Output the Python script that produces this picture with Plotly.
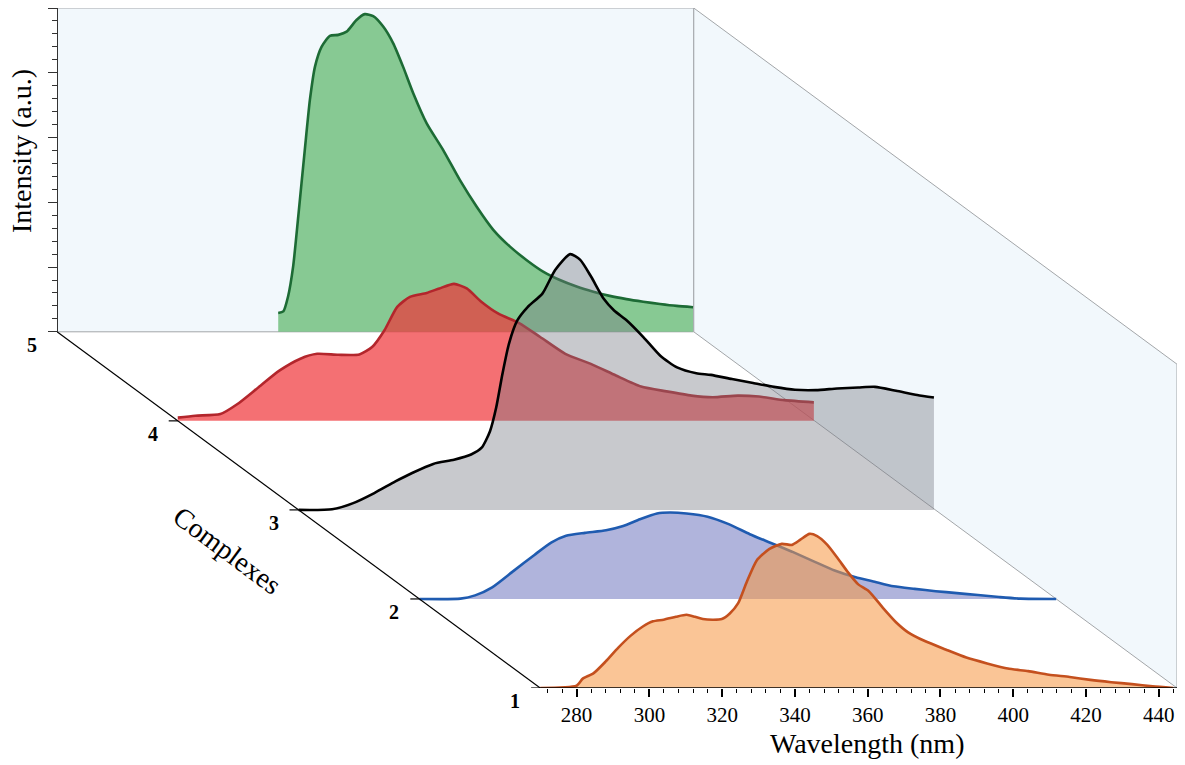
import plotly.graph_objects as go

# ---------------- data ----------------
complexes = [1, 2, 3, 4, 5]

wl_c1 = [270, 280, 281.7, 284.6, 288, 291.4, 294.8, 298.2, 301, 303.9, 307.3, 310.2, 312.5, 314.7,
         317.6, 319.9, 322.1, 324.4, 326.7, 329.5, 332.9, 336.4, 339.2, 341.5, 344.0, 346.1, 348.9,
         351.8, 354.6, 357.4, 360.3, 364.3, 367.7, 371.1, 375.7, 381.4, 387.1, 392.8, 398.5, 404.1,
         409.8, 415.5, 421.2, 426.9, 432.6, 438.3, 444]
int_c1 = [0, 0.7, 2.9, 4.5, 8.2, 12.4, 16.1, 19.0, 20.6, 21.1, 22.0, 22.6, 22.0, 21.3,
          21.1, 21.3, 23.0, 26.2, 32.6, 39.4, 42.9, 44.5, 44.2, 45.8, 47.6, 46.9, 44.2,
          40.0, 35.7, 32.0, 29.9, 24.6, 20.4, 17.2, 14.5, 11.9, 9.4, 7.6, 6.0, 5.2,
          4.1, 3.4, 2.5, 1.8, 1.2, 0.5, 0]

wl_c2 = [270, 281.3, 285.3, 290, 295.8, 301.6, 306.2, 310.3, 315.5, 321.3, 326, 330.6, 335.3,
         338.8, 343.4, 349.2, 355.0, 360.8, 366.6, 372.4, 378.2, 384.1, 389.9, 394.5, 400.3,
         406.1, 411.9, 417.7, 423.5, 429.3, 435.2, 445]
int_c2 = [0, 0.1, 1.1, 3.6, 8.6, 13.6, 17.4, 19.5, 20.4, 21.2, 22.5, 24.6, 26.4,
          26.7, 26.4, 25.4, 23.1, 20.0, 17.3, 14.6, 11.7, 8.8, 6.7, 5.5, 3.9,
          3.1, 2.4, 1.8, 1.2, 0.6, 0.1, 0]

wl_c3 = [270, 279.2, 285.0, 290.8, 296.6, 301.2, 307.0, 312.7, 317.4, 320.3, 322.6, 324.3, 326.0,
         327.8, 330.1, 333.0, 337.0, 340.5, 344.6, 347.4, 350.4, 353.8, 356.7, 360.2, 364.8,
         369.4, 374.0, 379.3, 383.3, 389.1, 394.9, 400.6, 406.4, 412.2, 418.0, 423.8, 428.4,
         434.2, 440.0, 444.6]
int_c3 = [0, 0.2, 2.1, 5.2, 8.8, 11.4, 14.2, 15.5, 17.1, 19.2, 24.3, 31.6, 41.9,
          51.3, 58.5, 62.7, 66.8, 74.1, 79.0, 77.2, 72.0, 65.3, 61.6, 58.5, 53.3,
          47.6, 44.0, 42.2, 41.7, 40.4, 39.2, 38.0, 37.1, 37.0, 37.5, 37.8, 38.0,
          36.8, 35.5, 34.7]

wl_c4 = [270, 274.8, 281.7, 286.4, 292.2, 297.9, 303.7, 308.3, 314.1, 319.9, 323.4, 326.8, 330.3,
         333.8, 338.4, 341.9, 345.9, 349.4, 353.4, 358.1, 363.8, 369.6, 376.5, 383.5, 390.4,
         397.3, 404.3, 411.2, 417.0, 423.9, 429.7, 436.7, 444.8]
int_c4 = [1.0, 1.6, 2.1, 5.2, 10.4, 15.5, 19.2, 20.7, 20.4, 20.5, 22.8, 28.0, 35.2,
          38.3, 39.5, 40.9, 42.3, 40.9, 36.8, 33.1, 30.2, 25.9, 20.7, 17.6, 14.0,
          10.6, 9.1, 7.8, 7.3, 7.8, 7.5, 6.4, 5.7]

wl_c5 = [330.8, 332.2, 333.5, 334.9, 336.3, 338.1, 339.5, 340.9, 342.7, 345.0, 347.3, 349.6, 352.3,
         354.6, 356.9, 359.7, 362.4, 365.1, 367.9, 371.6, 376.1, 380.7, 385.3, 389.9, 394.5,
         399.0, 403.6, 408.2, 412.8, 417.4, 421.9, 426.5, 431.1, 435.7, 440.3, 444.8]
int_c5 = [5.8, 6.3, 10.9, 20.2, 35.6, 56.2, 71.6, 81.9, 88.0, 91.4, 91.7, 92.7, 96.3,
          98.1, 97.5, 94.2, 89.1, 81.9, 73.7, 64.4, 56.2, 46.9, 38.7, 31.5, 26.3,
          22.2, 18.6, 16.0, 14.0, 12.4, 11.1, 10.1, 9.3, 8.6, 8.0, 7.6]

wl_ticks = [280, 300, 320, 340, 360, 380, 400, 420, 440]

# ---------------- styling / projection ----------------
WL_MIN, WL_MAX = 270, 445
I_MAX = 100
DX = 33.2   # wavelength shift per complex step (oblique depth)
DY = 27.5   # intensity shift per complex step
NK = len(complexes) - 1

SERIF = "Liberation Serif, Times New Roman, serif"
WALL = "#f2f8fc"
EDGE = "#a3a6a9"

series = [
    (wl_c1, int_c1, "#c4501e", "rgba(246,152,68,0.56)"),
    (wl_c2, int_c2, "#1f5bb0", "rgba(142,148,205,0.70)"),
    (wl_c3, int_c3, "#000000", "rgba(117,120,130,0.40)"),
    (wl_c4, int_c4, "#b3262c", "rgba(239,51,56,0.70)"),
    (wl_c5, int_c5, "#1d6b35", "rgba(107,189,120,0.80)"),
]


def px(wl, k):
    return [w - k * DX for w in wl]


def py(vals, k):
    return [v + k * DY for v in vals]


fig = go.Figure()

# curves, back to front
for k in range(NK, -1, -1):
    wl, it, lc, fc = series[k]
    poly_x = px(wl + [wl[-1], wl[0]], k)
    poly_y = py(it + [0, 0], k)
    fig.add_trace(go.Scatter(x=poly_x, y=poly_y, mode="lines", fill="toself",
                             fillcolor=fc, line=dict(width=0, color="rgba(0,0,0,0)"),
                             hoverinfo="skip", showlegend=False))
    fig.add_trace(go.Scatter(x=px(wl, k), y=py(it, k), mode="lines",
                             line=dict(color=lc, width=2.6, shape="spline", smoothing=0.6),
                             hoverinfo="skip", showlegend=False))

# complexes (depth) axis
fig.add_trace(go.Scatter(x=[WL_MIN - NK * DX, WL_MIN], y=[NK * DY, 0], mode="lines",
                         line=dict(color="black", width=1.2), hoverinfo="skip", showlegend=False))
for k in range(NK + 1):
    fig.add_trace(go.Scatter(x=[WL_MIN - k * DX - 2.5, WL_MIN - k * DX], y=[k * DY, k * DY],
                             mode="lines", line=dict(color="black", width=1.2),
                             hoverinfo="skip", showlegend=False))

# dummy trace to show the intensity axis on the back wall
fig.add_trace(go.Scatter(x=[WL_MIN - NK * DX], y=[0], yaxis="y2", mode="markers",
                         marker=dict(opacity=0), hoverinfo="skip", showlegend=False))

shapes = [
    # back wall
    dict(type="rect", xref="x", yref="y", x0=WL_MIN - NK * DX, x1=WL_MAX - NK * DX,
         y0=NK * DY, y1=I_MAX + NK * DY, fillcolor=WALL, line=dict(color=EDGE, width=1),
         layer="below"),
    # right side wall
    dict(type="path", xref="x", yref="y",
         path=f"M {WL_MAX - NK * DX},{NK * DY} L {WL_MAX - NK * DX},{I_MAX + NK * DY} "
              f"L {WL_MAX},{I_MAX} L {WL_MAX},0 Z",
         fillcolor=WALL, line=dict(color=EDGE, width=1), layer="below"),
    # wavelength axis line
    dict(type="line", xref="x", yref="y", x0=WL_MIN, x1=WL_MAX, y0=0, y1=0,
         line=dict(color="black", width=1.5)),
]

minor_x = [v for v in range(272, 445, 4) if v not in wl_ticks]

annotations = [
    dict(text="Wavelength (nm)", xref="paper", yref="paper", x=0.723, y=-0.081,
         showarrow=False, font=dict(family=SERIF, size=28, color="black"),
         xanchor="center", yanchor="middle"),
    dict(text="Intensity (a.u.)", xref="paper", yref="paper", x=-0.031, y=0.79,
         showarrow=False, textangle=-90, font=dict(family=SERIF, size=28, color="black"),
         xanchor="center", yanchor="middle"),
    dict(text="Complexes", xref="paper", yref="paper", x=0.152, y=0.2015,
         showarrow=False, textangle=36.6, font=dict(family=SERIF, size=28, color="black"),
         xanchor="center", yanchor="middle"),
]
for k, c in enumerate(complexes):
    annotations.append(dict(text=f"<b>{c}</b>", xref="x", yref="y", x=WL_MIN - k * DX, y=k * DY,
                            xshift=-25, yshift=-13, showarrow=False,
                            font=dict(family=SERIF, size=20, color="black"),
                            xanchor="center", yanchor="middle"))

fig.update_layout(
    width=1185, height=765,
    margin=dict(l=57, r=8, t=8, b=77),
    paper_bgcolor="white", plot_bgcolor="rgba(0,0,0,0)",
    showlegend=False,
    shapes=shapes,
    annotations=annotations,
    xaxis=dict(range=[WL_MIN - NK * DX, WL_MAX], showgrid=False, zeroline=False, showline=False,
               tickmode="array", tickvals=wl_ticks, ticktext=[str(v) for v in wl_ticks],
               ticks="outside", ticklen=8, tickwidth=1.5, tickcolor="black",
               tickfont=dict(family=SERIF, size=21, color="black"),
               minor=dict(tickmode="array", tickvals=minor_x, ticks="outside", ticklen=4,
                          tickwidth=1.2, tickcolor="black", showgrid=False),
               fixedrange=True),
    yaxis=dict(range=[0, I_MAX + NK * DY], showgrid=False, zeroline=False, showline=False,
               showticklabels=False, ticks="", fixedrange=True),
    yaxis2=dict(domain=[NK * DY / (I_MAX + NK * DY), 1], range=[0, I_MAX], anchor="free",
                position=0, showgrid=False, zeroline=False, showline=True, linecolor="#333333",
                linewidth=1.2, showticklabels=False, tickmode="linear", tick0=0, dtick=20,
                ticks="outside", ticklen=9, tickwidth=1.2, tickcolor="#333333",
                minor=dict(dtick=4, ticks="outside", ticklen=5, tickwidth=1,
                           tickcolor="#333333", showgrid=False),
                fixedrange=True),
)

fig.write_html("out.html")
